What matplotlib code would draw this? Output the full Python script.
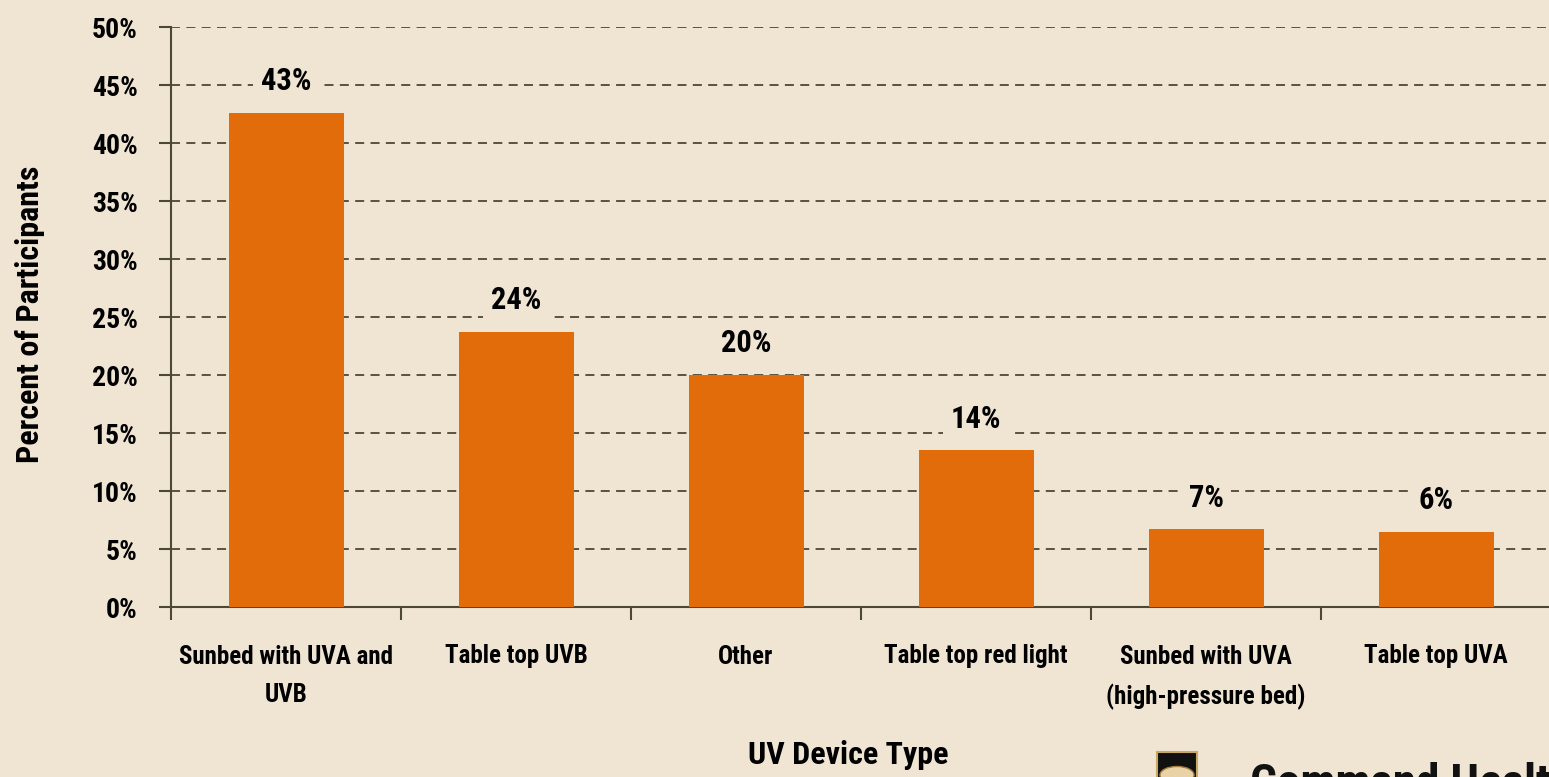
import matplotlib
matplotlib.use("Agg")
import matplotlib.pyplot as plt
from matplotlib import font_manager
from matplotlib.patches import Rectangle, Circle
import numpy as np

categories = ["Sunbed with UVA and\nUVB", "Table top UVB", "Other", "Table top red light",
              "Sunbed with UVA\n(high-pressure bed)", "Table top UVA"]
values = [42.6, 23.7, 20.0, 13.5, 6.7, 6.5]
labels = ["43%", "24%", "20%", "14%", "7%", "6%"]
yticks = [0, 5, 10, 15, 20, 25, 30, 35, 40, 45, 50]

BG = "#f0e5d3"
BAR = "#e36c0a"
AXC = "#4d4832"

names = {f.name for f in font_manager.fontManager.ttflist}
fam = [f for f in ["Roboto Condensed", "Liberation Sans Narrow", "DejaVu Sans Condensed", "DejaVu Sans"] if f in names]
plt.rcParams['font.family'] = fam + ["DejaVu Sans"]
plt.rcParams['font.weight'] = 'bold'

fig = plt.figure(figsize=(15.49, 7.77), dpi=100, facecolor=BG)
ax = fig.add_axes([171/1549, 1-607/777, 1380/1549, 580/777])
ax.set_facecolor(BG)

x = np.arange(len(categories))
ax.bar(x, values, width=0.5, color=BAR, zorder=3)
ax.set_xlim(-0.5, 5.5)
ax.set_ylim(0, 50)

ax.set_yticks(yticks)
ax.set_yticklabels([f"{t}%" for t in yticks])
ax.yaxis.grid(True, color=AXC, linestyle=(0, (5, 3.5)), linewidth=1.3, zorder=1)
ax.set_axisbelow(True)

ax.set_xticks(np.arange(-0.5, 5.6, 1.0))
ax.set_xticklabels([])
ax.set_xticks(x, minor=True)
ax.set_xticklabels(categories, minor=True)
ax.tick_params(axis='x', which='minor', length=0, pad=27, labelsize=18)
ax.tick_params(axis='x', which='major', length=9, width=1.5, color=AXC, direction='out')
ax.tick_params(axis='y', length=9, width=1.5, color=AXC, labelsize=20, pad=15)
for lab in ax.get_xticklabels(minor=True):
    lab.set_linespacing(1.75)

for s in ['top', 'right']:
    ax.spines[s].set_visible(False)
for s in ['left', 'bottom']:
    ax.spines[s].set_color(AXC)
    ax.spines[s].set_linewidth(1.5)

for xi, v, lab in zip(x, values, labels):
    ax.annotate(lab, (xi, v), xytext=(0, 12), textcoords='offset points',
                ha='center', va='bottom', fontsize=22, zorder=4,
                bbox=dict(boxstyle='square,pad=0.25', fc=BG, ec='none'))

fig.text(30/1549, 1-314/777, "Percent of Participants", rotation=90, ha='center', va='center',
         fontsize=23, fontweight='bold')
fig.text(848/1549, 1-755/777, "UV Device Type", ha='center', va='center', fontsize=23, fontweight='bold')

# logo at bottom right, cut off by the figure edge
fig.patches.append(Rectangle((1157/1549, -0.02), 40/1549, (777-752)/777 + 0.02, transform=fig.transFigure,
                             fc="#111111", ec="#c9a764", lw=1.5, figure=fig))
fig.patches.append(Circle((1177/1549, 1-775/777), 0.011, transform=fig.transFigure,
                          fc="#e9d3a6", ec="#a07c3a", lw=1, figure=fig))
fig.text(1250/1549, 1-762/777, "Command Health", ha='left', va='top', fontsize=34,
         fontweight='bold', color="#111111")

fig.savefig("out.png", dpi=100, facecolor=BG)
